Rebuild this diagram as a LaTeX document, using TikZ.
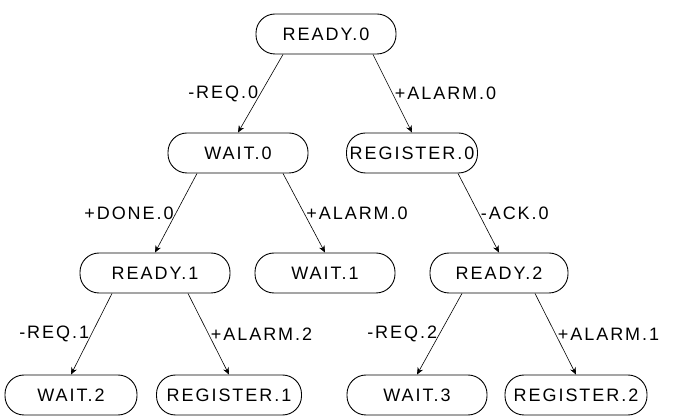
\documentclass[tikz,border=0pt]{standalone}
\usepackage{fontspec}
\setmainfont{Liberation Sans}[LetterSpace=11]
\usetikzlibrary{arrows.meta}
\begin{document}
\begin{tikzpicture}[x=1pt, y=-1pt, >={Stealth[length=7pt,width=6pt]},
    state/.style={draw, line width=0.9pt, rounded corners=19pt, minimum width=140pt, minimum height=40pt, inner sep=2pt, font=\fontsize{18}{18}\selectfont},
    lbl/.style={inner sep=2pt, font=\fontsize{18}{18}\selectfont}]
    \useasboundingbox (0,0) rectangle (675,419);
    \node[state] (r0) at (326,34) {READY.0};
    \node[state] (w0) at (238,153) {WAIT.0};
    \node[state, minimum width=131pt] (g0) at (412,153) {REGISTER.0};
    \node[state, minimum width=150pt] (r1) at (155,273) {READY.1};
    \node[state] (w1) at (325,273) {WAIT.1};
    \node[state, minimum width=138pt] (r2) at (499,273) {READY.2};
    \node[state, minimum width=132pt] (w2) at (71,395) {WAIT.2};
    \node[state, minimum width=145pt] (g1) at (229,395) {REGISTER.1};
    \node[state] (w3) at (417,395) {WAIT.3};
    \node[state, minimum width=142pt] (g2) at (576,395) {REGISTER.2};
    \draw[->, line width=0.6pt] ([xshift=-43pt]r0.south) -- node[lbl, left] {-REQ.0} (w0.north);
    \draw[->, line width=0.6pt] ([xshift=47pt]r0.south) -- node[lbl, right] {+ALARM.0} (g0.north);
    \draw[->, line width=0.6pt] ([xshift=-41pt]w0.south) -- node[lbl, left] {+DONE.0} (r1.north);
    \draw[->, line width=0.6pt] ([xshift=45pt]w0.south) -- node[lbl, right] {+ALARM.0} (w1.north);
    \draw[->, line width=0.6pt] ([xshift=46pt]g0.south) -- node[lbl, right] {-ACK.0} (r2.north);
    \draw[->, line width=0.6pt] ([xshift=-43pt]r1.south) -- node[lbl, left] {-REQ.1} (w2.north);
    \draw[->, line width=0.6pt] ([xshift=33pt]r1.south) -- node[lbl, right] {+ALARM.2} (g1.north);
    \draw[->, line width=0.6pt] ([xshift=-37pt]r2.south) -- node[lbl, left] {-REQ.2} (w3.north);
    \draw[->, line width=0.6pt] ([xshift=36pt]r2.south) -- node[lbl, right] {+ALARM.1} (g2.north);
\end{tikzpicture}
\end{document}
